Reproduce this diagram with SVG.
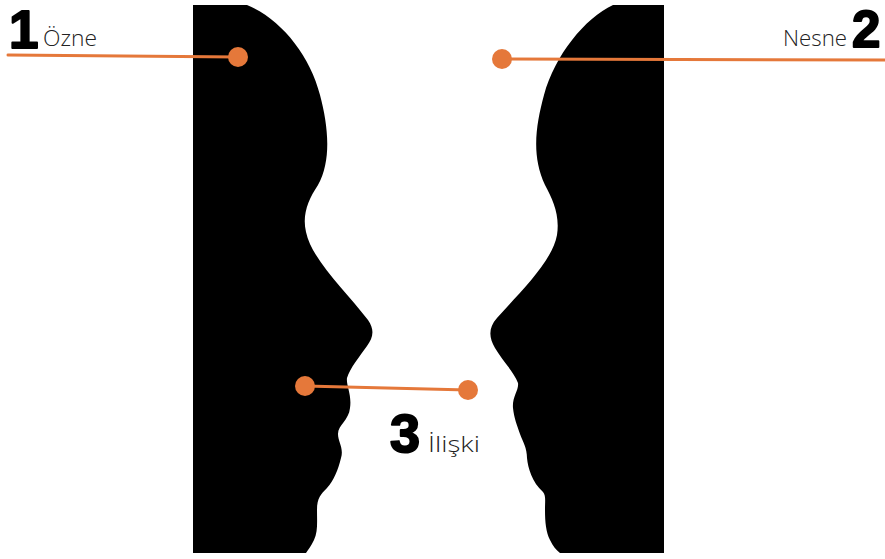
<svg xmlns="http://www.w3.org/2000/svg" width="885" height="559" viewBox="0 0 885 559">
  <style>
    .face { fill: #000000; }
    .link { stroke: #E5783A; stroke-width: 3; fill: none; stroke-linecap: round; }
    .dot { fill: #E5783A; }
    .num { font-family: "Liberation Sans", Arial, sans-serif; font-weight: 700; fill: #000000; stroke: #000000; stroke-width: 2; stroke-linejoin: round; }
    .lbl { font-family: "Open Sans", "Liberation Sans", sans-serif; font-weight: 300; font-size: 22px; fill: #222222; }
  </style>

  <rect width="885" height="559" fill="#ffffff"/>

  <!-- left profile, facing right -->
  <g id="face-left">
    <path class="face" d="M193,5 L247,5
      C280,18 310,55 320,95
      C328,125 332,160 318,185
      C308,200 302,215 306,232
      C312,260 345,290 368,320
      C375,330 373,338 367,346
      C360,356 350,368 347,378
      C346,385 352,395 350,408
      C349,420 338,425 338,434
      C338,442 344,448 341,458
      C338,470 334,480 327,488
      C321,494 317,498 317,510
      C317,522 318,532 314,540
      C311,546 308,550 306,553
      L193,553 Z"/>
  </g>

  <!-- right profile, facing left -->
  <g id="face-right">
    <path class="face" d="M664,5 L613,5
      C585,18 555,55 544,95
      C536,125 531,155 545,185
      C553,200 560,215 557,235
      C552,262 520,292 497,318
      C488,328 489,338 495,348
      C502,360 514,372 518,383
      C519,390 512,397 513,408
      C514,418 517,425 520,434
      C523,442 527,448 527,458
      C528,468 532,482 543,492
      C546,496 545,500 545,510
      C545,522 546,532 550,540
      C553,546 556,550 560,553
      L664,553 Z"/>
  </g>

  <!-- leader lines with end dots -->
  <g id="connectors">
    <line class="link" x1="8" y1="55" x2="238" y2="57"/>
    <circle class="dot" cx="238" cy="57" r="10"/>
    <line class="link" x1="502" y1="59" x2="885" y2="60"/>
    <circle class="dot" cx="502" cy="59" r="10"/>
    <line class="link" x1="305" y1="386" x2="468" y2="390"/>
    <circle class="dot" cx="305" cy="386" r="10"/>
    <circle class="dot" cx="468" cy="390" r="10"/>
  </g>

  <g id="label-ozne">
    <text class="num" x="9" y="48" font-size="53">1</text>
    <text class="lbl" x="43" y="46" textLength="54" lengthAdjust="spacingAndGlyphs">Özne</text>
  </g>

  <g id="label-nesne">
    <text class="lbl" x="783" y="46" textLength="64" lengthAdjust="spacingAndGlyphs">Nesne</text>
    <text class="num" x="852" y="47" font-size="51">2</text>
  </g>

  <g id="label-iliski">
    <text class="num" x="390" y="452" font-size="54">3</text>
    <text class="lbl" x="428" y="452" textLength="52" lengthAdjust="spacingAndGlyphs">İlişki</text>
  </g>
</svg>
